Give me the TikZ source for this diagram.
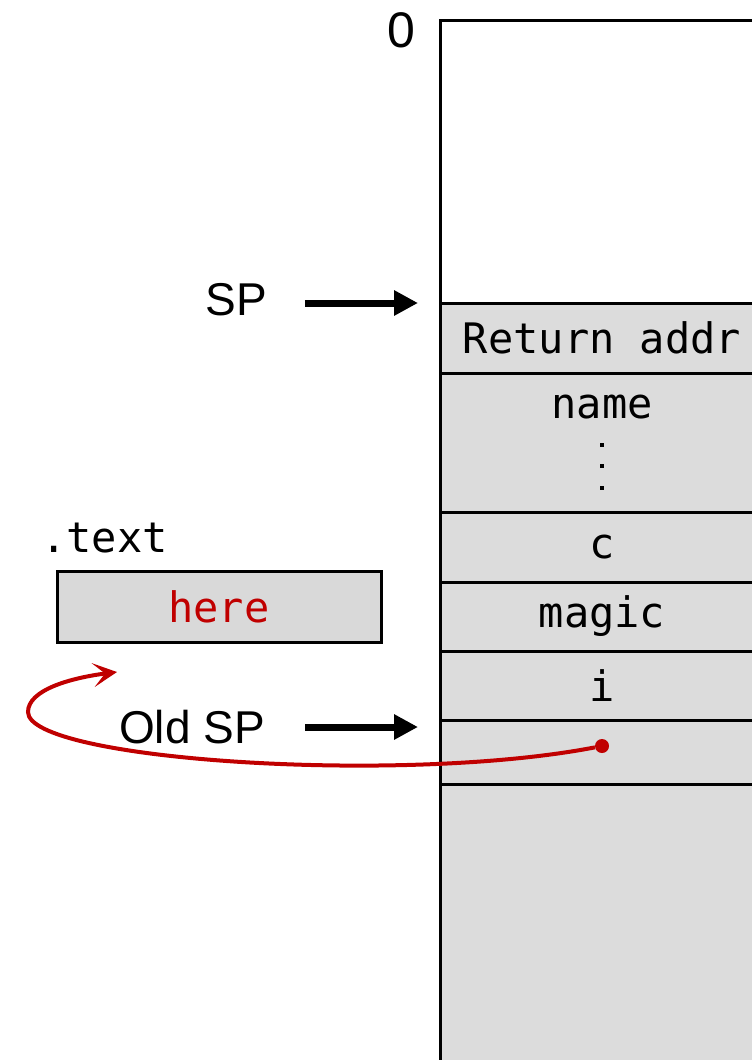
\documentclass[tikz,border=0pt]{standalone}
\usepackage{fontspec}
\setsansfont{Liberation Sans}
\newfontfamily\memfont{DejaVu Sans Mono}
\usepackage{tikz}
\usetikzlibrary{arrows.meta, calc, positioning}
\usepackage{xcolor}
\definecolor{CellGray}{HTML}{DCDCDC}
\definecolor{BoxGray}{HTML}{D9D9D9}
\definecolor{LinkRed}{HTML}{C00000}
\tikzset{%
  mem_cell/.style={%
    rectangle,%
    draw=black,%
    fill=CellGray,%
    line width=3pt,%
    minimum width=324pt,%
    inner sep=0pt,%
    outer sep=0pt,%
    font={\memfont\fontsize{42}{50}\selectfont},%
    align=center%
  },
  mem_text/.style={%
    inner sep=0pt,%
    font={\memfont\fontsize{42}{50}\selectfont},%
  },
  sp_label/.style={%
    inner sep=0pt,%
    font={\sffamily\fontsize{46}{54}\selectfont},%
  },
  pointer/.style={%
    line width=7pt,%
    -{Triangle[length=24pt, width=24pt]},%
  },
  link_path/.style={%
    color=LinkRed,%
    line width=4pt,%
    -{Stealth[length=24pt, width=24pt, inset=12pt]},%
  },
  link_dot/.style={%
    circle,%
    fill=LinkRed,%
    inner sep=0pt,%
    minimum size=14pt,%
  },
}
\begin{document}
\begin{tikzpicture}[x=1pt, y=-1pt]
    \clip (0,0) rectangle (752,1060);

    % stack frame
    \node [mem_cell, fill=white, minimum height=283pt, anchor=north west]
      (top) at (440,20) {};
    \node [mem_cell, minimum height=70pt, below=0 of top] (ret) {Return addr};
    \node [mem_cell, minimum height=139pt, below=0 of ret] (name) {};
    \node [mem_cell, minimum height=70pt, below=0 of name] (c) {c};
    \node [mem_cell, minimum height=69pt, below=0 of c] (magic) {magic};
    \node [mem_cell, minimum height=69pt, below=0 of magic] (i) {i};
    \node [mem_cell, minimum height=64pt, below=0 of i] (old) {};
    \node [mem_cell, minimum height=320pt, below=0 of old] (rest) {};

    \node [mem_text, anchor=base] (nametext) at ($(name.north)+(0,45)$) {name};
    \foreach \d in {72, 93, 115}
      \fill ($(name.north)+(-2,\d-2)$) rectangle +(4,4);

    % labels and pointers
    \node [sp_label, font={\sffamily\fontsize{50}{58}\selectfont}, anchor=north east]
      (zero) at ($(top.north west)+(-24,-8)$) {0};
    \node [sp_label] (sp) at ($(ret.north west)+(-204,-3)$) {SP};
    \node [sp_label] (oldsp) at ($(old.north west)+(-248,7)$) {Old SP};

    \draw [pointer, shorten <=38pt, shorten >=22pt]
      (sp.east |- ret.north west) -- (ret.north west);
    \draw [pointer, shorten <=40pt, shorten >=22pt]
      (oldsp.east) -- (oldsp.east -| old.west);

    % text section
    \node [mem_cell, fill=BoxGray, minimum height=71pt, text=LinkRed]
      (here) at (219,606.5) {here};
    \node [mem_text, anchor=south west] (textlabel)
      at ($(here.north west)+(-16,-18)$) {.text};

    % saved pointer
    \node [link_dot] (ptr) at ($(old.center)+(0,-6)$) {};
    \coordinate (target) at ($(here.south west)+(60,30)$);
    \draw [link_path]
      (ptr) .. controls (400,785) and (28,760) .. (28,712)
      .. controls (28,690) and (70,678) .. (target);
  \end{tikzpicture}
\end{document}
